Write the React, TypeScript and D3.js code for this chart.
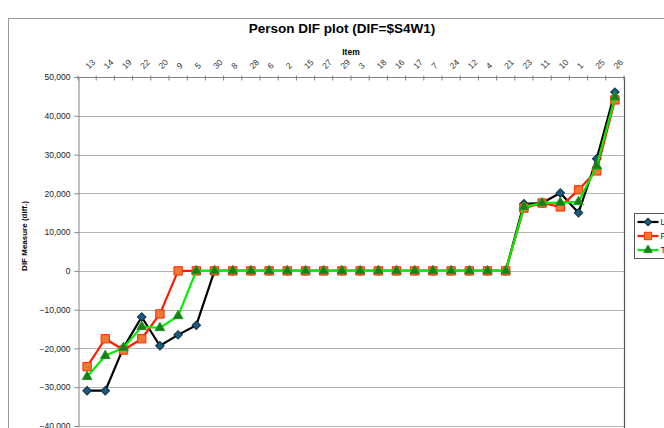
import { useEffect, useRef } from "react"
import * as d3 from "d3"

// item order along the top axis
const items = ["13", "14", "19", "22", "20", "9", "5", "30", "8", "28", "6", "2", "15", "27", "29", "3", "18", "16", "17", "7", "24", "12", "4", "21", "23", "11", "10", "1", "25", "26"]

const seriesL = [-30900, -30900, -19800, -11900, -19300, -16500, -14000, 0, 0, 0, 0, 0, 0, 0, 0, 0, 0, 0, 0, 0, 0, 0, 0, 0, 17300, 17500, 20100, 15000, 28900, 46100]
const seriesF = [-24700, -17500, -20400, -17500, -11100, 0, 0, 0, 0, 0, 0, 0, 0, 0, 0, 0, 0, 0, 0, 0, 0, 0, 0, 0, 16200, 17500, 16500, 20900, 25800, 44100]
const seriesT = [-27300, -21900, -19800, -14400, -14700, -11600, 0, 0, 0, 0, 0, 0, 0, 0, 0, 0, 0, 0, 0, 0, 0, 0, 0, 0, 16500, 17500, 17600, 17800, 27000, 44800]

const seriesNames = ["L", "F", "T"]
const yTicks = [50000, 40000, 30000, 20000, 10000, 0, -10000, -20000, -30000, -40000]

interface SeriesStyle {
  name: string
  values: number[]
  line: string
  fill: string
  stroke: string
  symbol: d3.SymbolType
  size: number
  rotate: number
}

const App = () => {
  const svgRef = useRef<SVGSVGElement | null>(null)

  useEffect(() => {
    if (!svgRef.current) return
    const svg = d3.select(svgRef.current)
    svg.selectAll("*").remove()

    const width = 664
    const height = 428
    const plot = { left: 78, right: 624, top: 77, bottom: 426 }

    const x = d3.scaleBand<string>().domain(items).range([plot.left, plot.right])
    const y = d3.scaleLinear().domain([-40000, 50000]).range([plot.bottom, plot.top])

    const font = "Arial, 'Liberation Sans', sans-serif"

    svg.append("rect").attr("width", width).attr("height", height).attr("fill", "#fff")

    // outer chart border
    svg.append("rect")
      .attr("x", 8.5).attr("y", 18.5)
      .attr("width", width + 20).attr("height", height + 20)
      .attr("fill", "none").attr("stroke", "#9a9a9a").attr("stroke-width", 1)

    // title
    svg.append("text")
      .attr("x", 342).attr("y", 33)
      .attr("text-anchor", "middle")
      .attr("font-family", font).attr("font-weight", "bold").attr("font-size", "13.5px")
      .attr("fill", "#000")
      .text("Person DIF plot (DIF=$S4W1)")

    svg.append("text")
      .attr("x", 351).attr("y", 55)
      .attr("text-anchor", "middle")
      .attr("font-family", font).attr("font-weight", "bold").attr("font-size", "8.5px")
      .text("Item")

    // gridlines
    svg.append("g")
      .selectAll("line")
      .data(yTicks)
      .join("line")
      .attr("x1", plot.left).attr("x2", plot.right)
      .attr("y1", (d) => Math.round(y(d)) + 0.5).attr("y2", (d) => Math.round(y(d)) + 0.5)
      .attr("stroke", "#b4b4b4").attr("stroke-width", 1.2)

    // y axis
    const yAxis = svg.append("g")
      .attr("transform", `translate(${plot.left + 0.5},0)`)
      .call(d3.axisLeft(y).tickValues(yTicks).tickSize(4).tickPadding(4).tickFormat((d) => d3.format(",")(d as number)))
    yAxis.select(".domain").attr("stroke", "#808080")
    yAxis.selectAll(".tick line").attr("stroke", "#808080")
    yAxis.selectAll("text").attr("font-family", font).attr("font-size", "8.5px").attr("fill", "#222")

    // right border of plot
    svg.append("line")
      .attr("x1", plot.right + 0.5).attr("x2", plot.right + 0.5)
      .attr("y1", plot.top).attr("y2", height)
      .attr("stroke", "#555").attr("stroke-width", 1.2)

    // top category axis
    const xAxis = svg.append("g")
      .attr("transform", `translate(0,${plot.top + 0.5})`)
    xAxis.append("line")
      .attr("x1", plot.left).attr("x2", plot.right)
      .attr("stroke", "#808080")
    xAxis.selectAll(".cat-tick")
      .data(d3.range(items.length + 1))
      .join("line")
      .attr("class", "cat-tick")
      .attr("x1", (i) => plot.left + i * x.step())
      .attr("x2", (i) => plot.left + i * x.step())
      .attr("y1", -2).attr("y2", 3)
      .attr("stroke", "#808080")
    xAxis.selectAll(".cat-label")
      .data(items)
      .join("text")
      .attr("class", "cat-label")
      .attr("transform", (d) => `translate(${(x(d) as number) + x.bandwidth() / 2 + 2},${-8}) rotate(-45)`)
      .attr("font-family", font).attr("font-size", "8.5px").attr("fill", "#333")
      .text((d) => d)

    // y axis title
    svg.append("text")
      .attr("transform", `translate(27,236) rotate(-90)`)
      .attr("text-anchor", "middle")
      .attr("font-family", font).attr("font-weight", "bold").attr("font-size", "8px")
      .text("DIF Measure (diff.)")

    const series: SeriesStyle[] = [
      { name: seriesNames[0], values: seriesL, line: "#000000", fill: "#1c5a7e", stroke: "#10304a", symbol: d3.symbolSquare, size: 36, rotate: 45 },
      { name: seriesNames[1], values: seriesF, line: "#ff1a00", fill: "#f07832", stroke: "#ff2a00", symbol: d3.symbolSquare, size: 70, rotate: 0 },
      { name: seriesNames[2], values: seriesT, line: "#00ee00", fill: "#1b7d1b", stroke: "#1a9a1a", symbol: d3.symbolTriangle, size: 40, rotate: 0 },
    ]

    const cx = (i: number) => (x(items[i]) as number) + x.bandwidth() / 2
    const line = d3.line<number>().x((_, i) => cx(i)).y((d) => y(d))

    series.forEach((s) => {
      const g = svg.append("g")
      g.append("path")
        .datum(s.values)
        .attr("d", line)
        .attr("fill", "none")
        .attr("stroke", s.line)
        .attr("stroke-width", 2.2)
        .attr("stroke-linejoin", "round")
      g.selectAll("path.marker")
        .data(s.values)
        .join("path")
        .attr("class", "marker")
        .attr("transform", (d, i) => `translate(${cx(i)},${y(d)}) rotate(${s.rotate})`)
        .attr("d", d3.symbol().type(s.symbol).size(s.size)())
        .attr("fill", s.fill)
        .attr("stroke", s.stroke)
        .attr("stroke-width", 1)
    })

    // legend
    const legend = svg.append("g").attr("transform", "translate(634.5,213.5)")
    legend.append("rect")
      .attr("width", 60).attr("height", 45)
      .attr("fill", "#fff").attr("stroke", "#555").attr("stroke-width", 1)
    series.forEach((s, i) => {
      const ly = 8.5 + i * 14
      legend.append("line")
        .attr("x1", 3).attr("x2", 24).attr("y1", ly).attr("y2", ly)
        .attr("stroke", s.line).attr("stroke-width", 2.2)
      legend.append("path")
        .attr("transform", `translate(13.5,${ly}) rotate(${s.rotate})`)
        .attr("d", d3.symbol().type(s.symbol).size(s.size * 0.8)())
        .attr("fill", s.fill).attr("stroke", s.stroke)
      legend.append("text")
        .attr("x", 26).attr("y", ly + 3)
        .attr("font-family", font).attr("font-size", "8.5px").attr("fill", "#222")
        .text(s.name)
    })
  }, [])

  return (
    <svg ref={svgRef} width={664} height={428} style={{ position: "absolute", left: 0, top: 0, display: "block" }} />
  )
}

export default App
